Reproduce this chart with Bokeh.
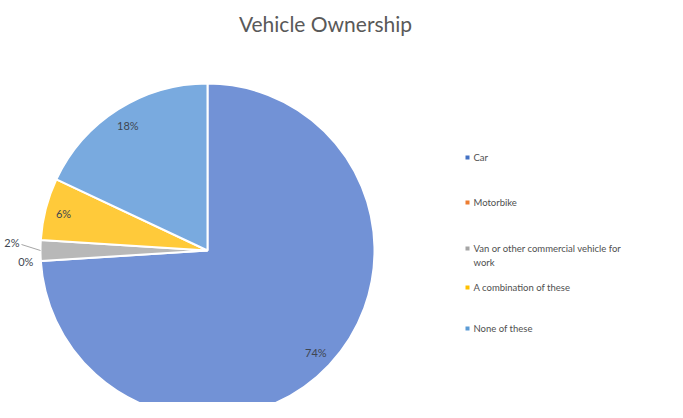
import math
import textwrap
from bokeh.plotting import figure
from bokeh.models import Range1d, ColumnDataSource
from bokeh.core.properties import value
from bokeh.embed import file_html
from bokeh.resources import INLINE

# ---- data ----
title = "Vehicle Ownership"
categories = ["Car", "Motorbike", "Van or other commercial vehicle for work",
              "A combination of these", "None of these"]
percentages = [74, 0, 2, 6, 18]

# ---- style ----
wedge_colors = ["#7292D6", "#ED7D31", "#B8B8B8", "#FFCA3A", "#79AADF"]
legend_colors = ["#4472C4", "#ED7D31", "#A5A5A5", "#FFC000", "#5B9BD5"]
FONT = "Lato"
W, H = 667, 402

def px(rx, ry):
    """convert reference-image pixel position to plot data coords (y up)."""
    return rx, H - ry

p = figure(width=W, height=H, x_range=Range1d(0, W), y_range=Range1d(0, H),
           output_backend="svg", toolbar_location=None, min_border=0)
p.axis.visible = False
p.grid.visible = False
p.outline_line_color = None
p.background_fill_color = "white"

cx, cy = px(207, 250)
R = 167

total = float(sum(percentages))
starts, ends, cols, mids = [], [], [], []
cum = 0.0
for pct, col in zip(percentages, wedge_colors):
    c0 = cum / total
    cum += pct
    c1 = cum / total
    a_start = math.pi / 2 - 2 * math.pi * c1
    a_end = math.pi / 2 - 2 * math.pi * c0
    mids.append((a_start + a_end) / 2)
    if pct > 0:
        starts.append(a_start)
        ends.append(a_end)
        cols.append(col)

src = ColumnDataSource(dict(x=[cx] * len(starts), y=[cy] * len(starts),
                            s=starts, e=ends, c=cols))
p.wedge(x="x", y="y", radius=R, start_angle="s", end_angle="e",
        fill_color="c", line_color="white", line_width=2, source=src)

# ---- data labels ----
lab_x, lab_y, lab_t, lab_align = [], [], [], []
for pct, mid in zip(percentages, mids):
    txt = f"{pct}%"
    if pct >= 5:
        r = 0.89 * R
        lab_x.append(cx + r * math.cos(mid))
        lab_y.append(cy + r * math.sin(mid))
        lab_t.append(txt)
        lab_align.append("center")
    elif pct == 0:
        r = 1.09 * R
        lab_x.append(cx + r * math.cos(mid))
        lab_y.append(cy + r * math.sin(mid))
        lab_t.append(txt)
        lab_align.append("center")
    else:
        # leader line outward to a label near the left edge
        x0 = cx + R * math.cos(mid)
        y0 = cy + R * math.sin(mid)
        x1, y1 = x0 - 19, y0 + 6
        p.line([x0, x1], [y0, y1], line_color="#A6A6A6", line_width=1)
        lab_x.append(x1 - 2)
        lab_y.append(y1 + 2)
        lab_t.append(txt)
        lab_align.append("right")

p.text(x=lab_x, y=lab_y, text=lab_t, text_align=lab_align,
       text_baseline="middle", text_font=value(FONT), text_font_size="11px",
       text_color="#404651")

# ---- title ----
tx, ty = px(325, 23)
p.text(x=[tx], y=[ty], text=[title], text_align="center", text_baseline="middle",
       text_font=value(FONT), text_font_size="21px", text_color="#595959")

# ---- legend ----
legend_rows_ref_y = [157, 202, 248, 287, 328]
mk_x, _ = px(467, 0)
t_x, _ = px(473, 0)
line_h = 14
mx, my, mc = [], [], []
lt_x, lt_y, lt_t = [], [], []
for cat, col, ry in zip(categories, legend_colors, legend_rows_ref_y):
    _, y = px(0, ry)
    mx.append(mk_x)
    my.append(y)
    mc.append(col)
    for j, line in enumerate(textwrap.wrap(cat, 35)):
        lt_x.append(t_x)
        lt_y.append(y - j * line_h)
        lt_t.append(line)

p.scatter(x=mx, y=my, marker="square", size=4, fill_color=mc, line_color=None)
p.text(x=lt_x, y=lt_y, text=lt_t, text_align="left", text_baseline="middle",
       text_font=value(FONT), text_font_size="9.5px", text_color="#4F4F4F")

open("out.html", "w").write(file_html(p, INLINE))
